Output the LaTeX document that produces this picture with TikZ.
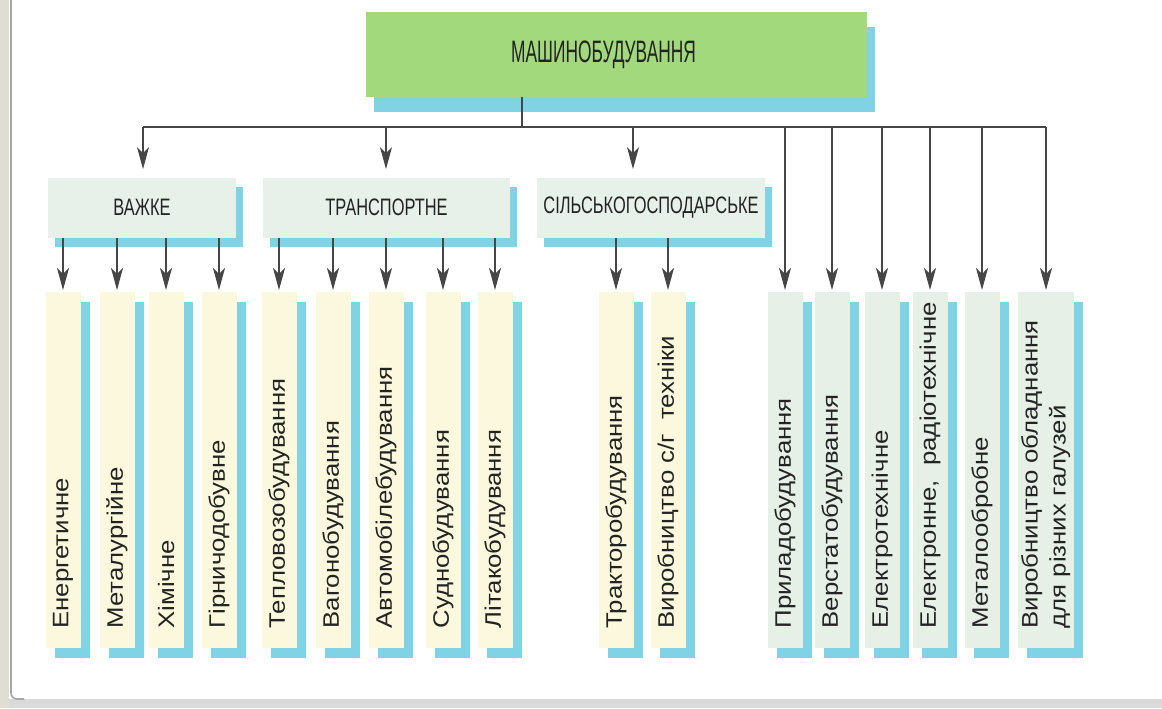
\documentclass[tikz,border=0pt]{standalone}
\usepackage{fontspec}
\usepackage{graphicx}
\usepackage{tikz}
\usetikzlibrary{arrows.meta,shadows,positioning}
\setmainfont{Liberation Sans}
\newfontfamily\titlefont{Liberation Sans}[FakeStretch=0.56]
\newfontfamily\catfont{Liberation Sans}[FakeStretch=0.69]
\newfontfamily\leaffont{Liberation Sans}[FakeStretch=1.15]
\definecolor{TitleGreen}{RGB}{163,217,125}
\definecolor{ShadowBlue}{RGB}{128,211,228}
\definecolor{CatFill}{RGB}{231,241,233}
\definecolor{LeafCream}{RGB}{251,248,221}
\definecolor{LeafGreen}{RGB}{230,240,231}
\definecolor{LineGray}{RGB}{70,70,70}
\definecolor{TextGray}{RGB}{35,35,35}
\definecolor{FrameGray}{RGB}{224,221,211}
\definecolor{BandGray}{RGB}{218,218,218}

\tikzset{
  line/.style={draw=LineGray, line width=0.8pt},
  arr/.style={line, -{Stealth[length=11pt,width=6pt,inset=3pt]}},
  titlebox/.style={fill=TitleGreen, minimum width=250.5pt, minimum height=42.5pt,
    inner sep=0pt, text=TextGray, font=\titlefont\fontsize{15.5}{18}\selectfont,
    general shadow={fill=ShadowBlue, shadow xshift=4pt, shadow yshift=-7.5pt}},
  catbox/.style={fill=CatFill, minimum height=30pt, inner sep=0pt, text=TextGray,
    font=\catfont\fontsize{11.9}{14}\selectfont,
    general shadow={fill=ShadowBlue, shadow xshift=3.5pt, shadow yshift=-4.5pt}},
  leafbox/.style={minimum width=17.5pt, minimum height=178pt, inner sep=0pt,
    anchor=north, text=TextGray, font=\leaffont\fontsize{11.2}{14}\selectfont,
    general shadow={fill=ShadowBlue, shadow xshift=4.5pt, shadow yshift=-5pt}}
}
\newcommand{\vtext}[1]{\rotatebox{90}{\makebox[158pt][l]{#1}}}

\begin{document}
\begin{tikzpicture}[x=0.5pt, y=-0.5pt]
  \useasboundingbox (0,0) rectangle (1162,708);

  % Page frame
  \fill[FrameGray] (0,0) rectangle (9,708);
  \fill[BandGray] (9,699) rectangle (1162,708);
  \draw[black!35, line width=0.8pt, rounded corners=3pt] (11,0) -- (11,699) -- (24,699);

  % Top box
  \node[titlebox] (mash) at (616.5,54.5) {\kern-13pt МАШИНОБУДУВАННЯ};

  % Categories
  \node[catbox, minimum width=94pt] (vazhke) at (142,207.5) {ВАЖКЕ};
  \node[catbox, minimum width=123.5pt] (transp) at (386.5,207.5) {ТРАНСПОРТНЕ};
  \node[catbox, minimum width=114pt] (silsk) at (651,207.5) {СІЛЬСЬКОГОСПОДАРСЬКЕ};

  % Branches under each category
  \foreach \name/\x/\txt in {en/63/Енергетичне, met/117/Металургійне,
      him/166/Хімічне, hir/219/Гірничодобувне} {
    \node[leafbox, fill=LeafCream] (\name) at (\x,292) {\vtext{\txt}};
    \draw[arr, shorten >=1pt] (\name.north |- vazhke.south) -- (\name.north);
  }
  \foreach \name/\x/\txt in {tep/279/Тепловозобудування, vag/333/Вагонобудування,
      avt/386/Автомобілебудування, sud/443/Суднобудування, lit/495/Літакобудування} {
    \node[leafbox, fill=LeafCream] (\name) at (\x,292) {\vtext{\txt}};
    \draw[arr, shorten >=1pt] (\name.north |- transp.south) -- (\name.north);
  }
  \foreach \name/\x/\txt in {trak/616/Тракторобудування, sg/668/{Виробництво с/г\ \ техніки}} {
    \node[leafbox, fill=LeafCream] (\name) at (\x,292) {\vtext{\txt}};
    \draw[arr, shorten >=1pt] (\name.north |- silsk.south) -- (\name.north);
  }

  % Bus from the top box
  \coordinate (busL) at (143,127);
  \coordinate (busR) at (1046,127);
  \coordinate (stem) at (522,127);
  \coordinate (busT) at (386,127);
  \coordinate (busS) at (633,127);
  \draw[line] (busL) -- (busR);
  \draw[line] (stem |- mash.south) -- (stem);
  \draw[arr, shorten >=4pt] (busL) -- (busL |- vazhke.north);
  \draw[arr, shorten >=4pt] (busT) -- (busT |- transp.north);
  \draw[arr, shorten >=4pt] (busS) -- (busS |- silsk.north);

  % Branches straight from the bus
  \foreach \name/\x/\txt in {pryl/785/Приладобудування, verst/832/Верстатобудування,
      eltech/882/Електротехнічне, elrad/930/{Електронне,\ \ радіотехнічне},
      metob/982/Металообробне} {
    \node[leafbox, fill=LeafGreen] (\name) at (\x,292) {\vtext{\txt}};
    \draw[arr, shorten >=1pt] (\name.north |- busL) -- (\name.north);
  }
  \node[leafbox, fill=LeafGreen, minimum width=28pt] (obl) at (1046,292)
    {\vtext{\begin{tabular}{@{}l@{}}Виробництво обладнання\\для різних галузей\end{tabular}}};
  \draw[arr, shorten >=1pt] (busR) -- (obl.north);
\end{tikzpicture}
\end{document}
